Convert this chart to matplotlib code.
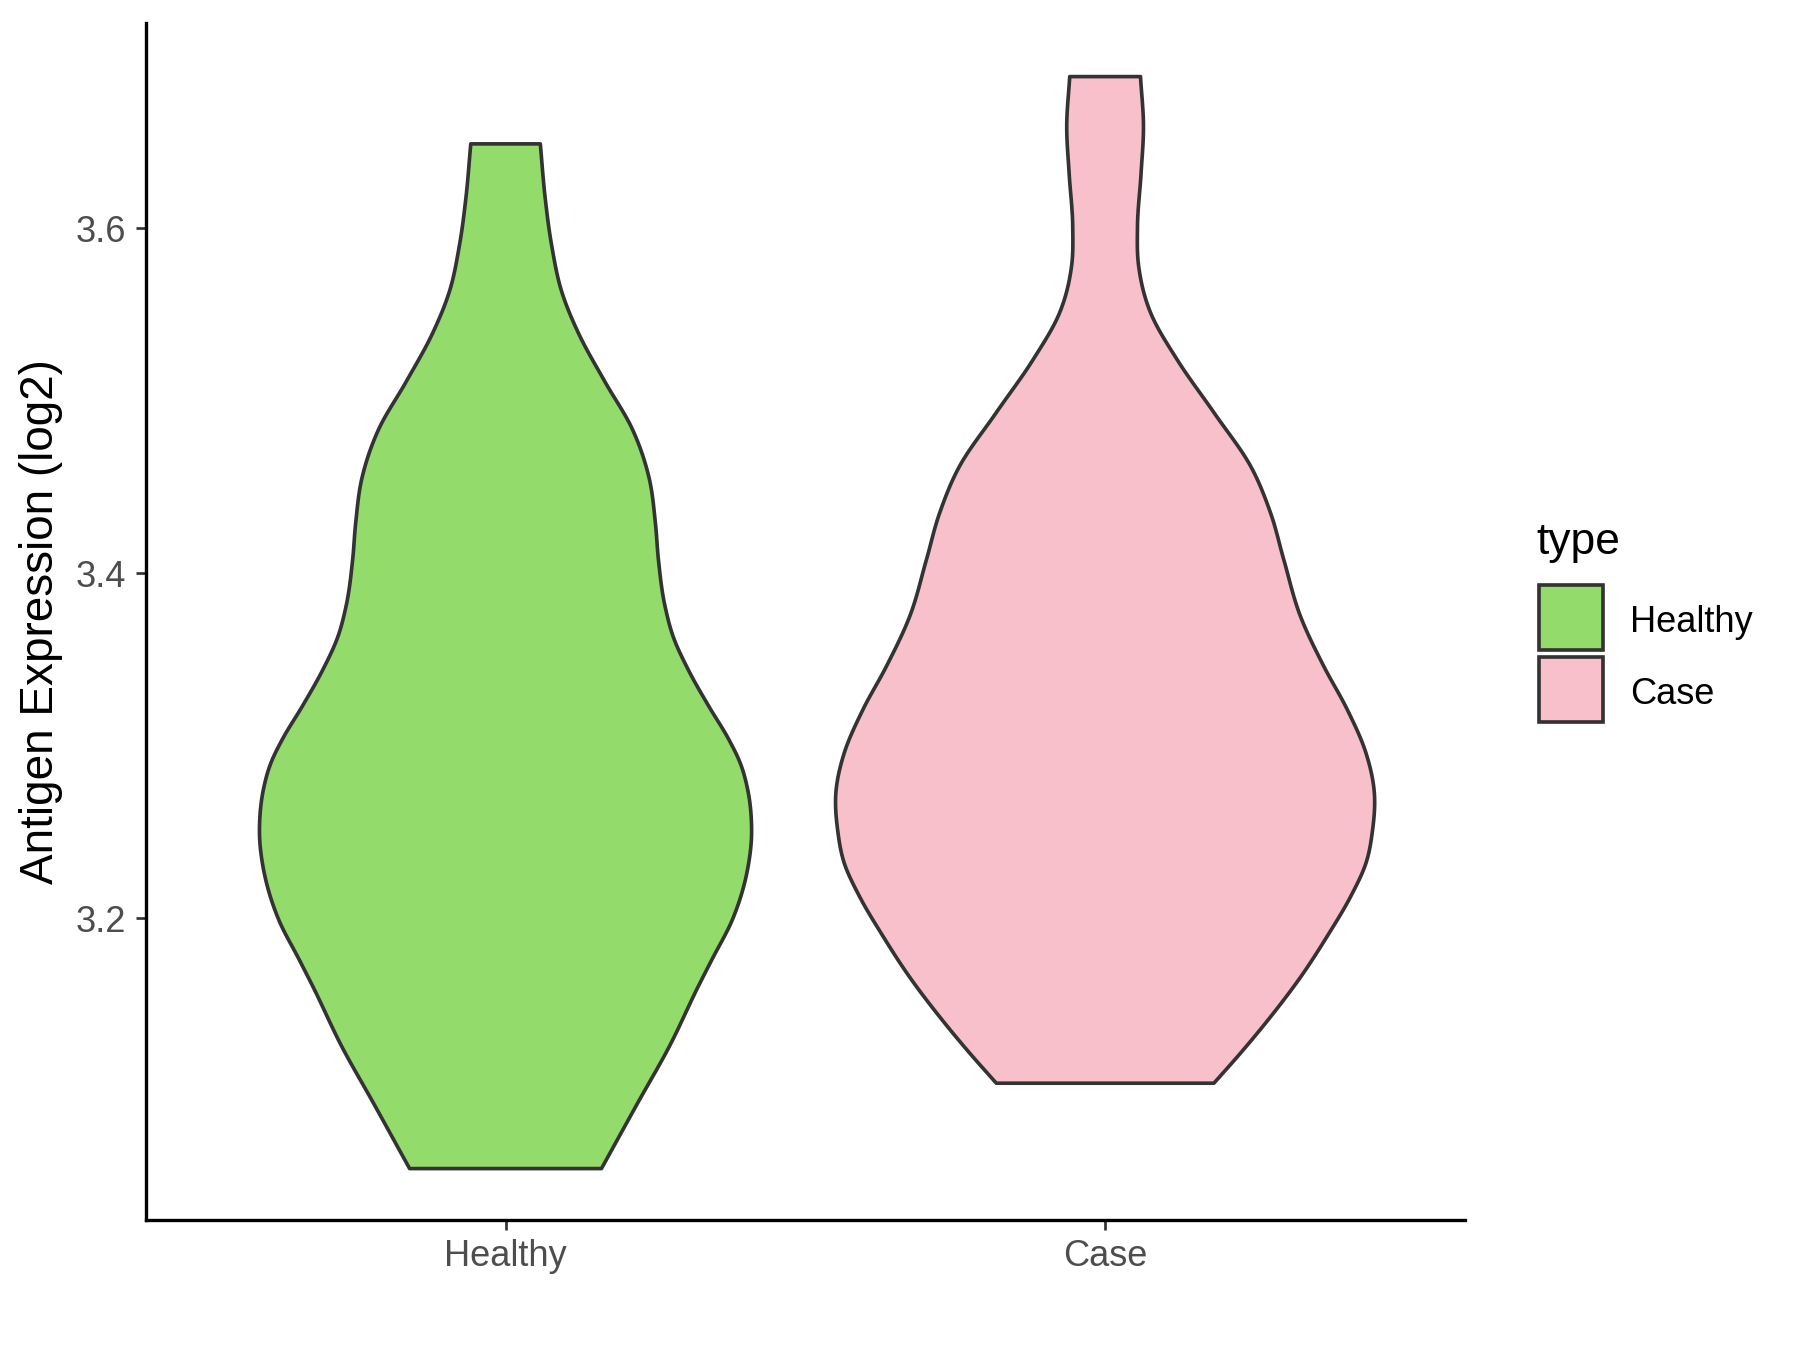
import numpy as np
import matplotlib
matplotlib.use("Agg")
import matplotlib.pyplot as plt
from matplotlib.patches import Rectangle

plt.rcParams['font.family'] = ['Liberation Sans', 'DejaVu Sans']

# ---- data ----
categories = ["Healthy", "Case"]
colors = ["#93DB6B", "#F7C0CB"]

# violin profiles: expression value (log2) and half-width (in x-axis units)
healthy_y = [3.649, 3.618, 3.590, 3.563, 3.539, 3.511, 3.484, 3.456, 3.429, 3.408,
             3.381, 3.363, 3.344, 3.323, 3.304, 3.290, 3.2745, 3.257, 3.2455, 3.232,
             3.2146, 3.199, 3.176, 3.161, 3.125, 3.094, 3.055]
healthy_w = [0.058, 0.066, 0.077, 0.094, 0.122, 0.166, 0.211, 0.239, 0.250, 0.255,
             0.266, 0.280, 0.305, 0.339, 0.372, 0.3915, 0.404, 0.410, 0.410, 0.4055,
             0.394, 0.378, 0.344, 0.322, 0.272, 0.222, 0.160]

case_y = [3.688, 3.659, 3.632, 3.601, 3.578, 3.551, 3.524, 3.493, 3.462, 3.435,
          3.408, 3.375, 3.346, 3.321, 3.296, 3.273, 3.251, 3.232, 3.213, 3.190,
          3.166, 3.143, 3.122, 3.1045]
case_w = [0.059, 0.064, 0.060, 0.054, 0.056, 0.076, 0.120, 0.182, 0.243, 0.276,
          0.298, 0.326, 0.365, 0.404, 0.435, 0.449, 0.446, 0.435, 0.410, 0.371,
          0.326, 0.276, 0.226, 0.1815]

yticks = [3.2, 3.4, 3.6]
ylabel = "Antigen Expression (log2)"
legend_title = "type"


def smooth_profile(y, w, n=20):
    """Cubic Hermite rendering of half-width as a function of y through the read points."""
    y = np.asarray(y, float)
    w = np.asarray(w, float)
    k = len(y)
    m = np.zeros(k)
    for i in range(k):
        if i == 0:
            m[i] = (w[1] - w[0]) / (y[1] - y[0])
        elif i == k - 1:
            m[i] = (w[-1] - w[-2]) / (y[-1] - y[-2])
        else:
            h0 = y[i] - y[i - 1]
            h1 = y[i + 1] - y[i]
            d0 = (w[i] - w[i - 1]) / h0
            d1 = (w[i + 1] - w[i]) / h1
            m[i] = (h1 * d0 + h0 * d1) / (h0 + h1)
    ys, ws = [], []
    t = np.linspace(0, 1, n, endpoint=False)
    for i in range(k - 1):
        h = y[i + 1] - y[i]
        h00 = 2 * t ** 3 - 3 * t ** 2 + 1
        h10 = t ** 3 - 2 * t ** 2 + t
        h01 = -2 * t ** 3 + 3 * t ** 2
        h11 = t ** 3 - t ** 2
        ws.append(h00 * w[i] + h10 * h * m[i] + h01 * w[i + 1] + h11 * h * m[i + 1])
        ys.append(y[i] + t * h)
    ys.append([y[-1]])
    ws.append([w[-1]])
    return np.concatenate(ys), np.concatenate(ws)


fig = plt.figure(figsize=(12, 9), dpi=150)
ax = fig.add_axes([0.081, 0.0963, 0.7328, 0.8867])

edge = "#333333"
profiles = [(healthy_y, healthy_w), (case_y, case_w)]
for i, ((yy, ww), c) in enumerate(zip(profiles, colors)):
    pos = i + 1
    sy, sw = smooth_profile(yy, ww)
    xs = np.concatenate([pos - sw, (pos + sw)[::-1]])
    ys = np.concatenate([sy, sy[::-1]])
    ax.fill(xs, ys, facecolor=c, edgecolor=edge, linewidth=1.75, joinstyle='round', zorder=2)

ax.set_xlim(0.4, 2.6)
ax.set_ylim(3.0252, 3.7191)
ax.set_xticks([1, 2])
ax.set_xticklabels(categories)
ax.set_yticks(yticks)
ax.set_yticklabels([f"{v:.1f}" for v in yticks])

for s in ["top", "right"]:
    ax.spines[s].set_visible(False)
for s in ["left", "bottom"]:
    ax.spines[s].set_linewidth(1.6)
    ax.spines[s].set_color("black")

ax.tick_params(axis='both', length=4.8, width=1.3, color="#333333",
               labelcolor="#4D4D4D", labelsize=17.4, pad=4.5)
ax.set_ylabel(ylabel, fontsize=22, color="black", labelpad=6)

# legend drawn manually in figure pixel coordinates
W, H = 1800, 1350
fig.text(1536 / W, 1 - 542 / H, legend_title, fontsize=21.3, color="black",
         ha="left", va="center")
key_x, key_w, key_h = 1539, 64, 65
key_tops = [585, 657]
for cat, c, top in zip(categories, colors, key_tops):
    fig.add_artist(Rectangle((key_x / W, 1 - (top + key_h) / H), key_w / W, key_h / H,
                             transform=fig.transFigure, facecolor=c, edgecolor=edge,
                             linewidth=1.75))
    fig.text(1630 / W, 1 - (top + key_h / 2 + 5) / H, cat, fontsize=17.4, color="black",
             ha="left", va="center")

fig.savefig("out.png", dpi=150, facecolor="white")
